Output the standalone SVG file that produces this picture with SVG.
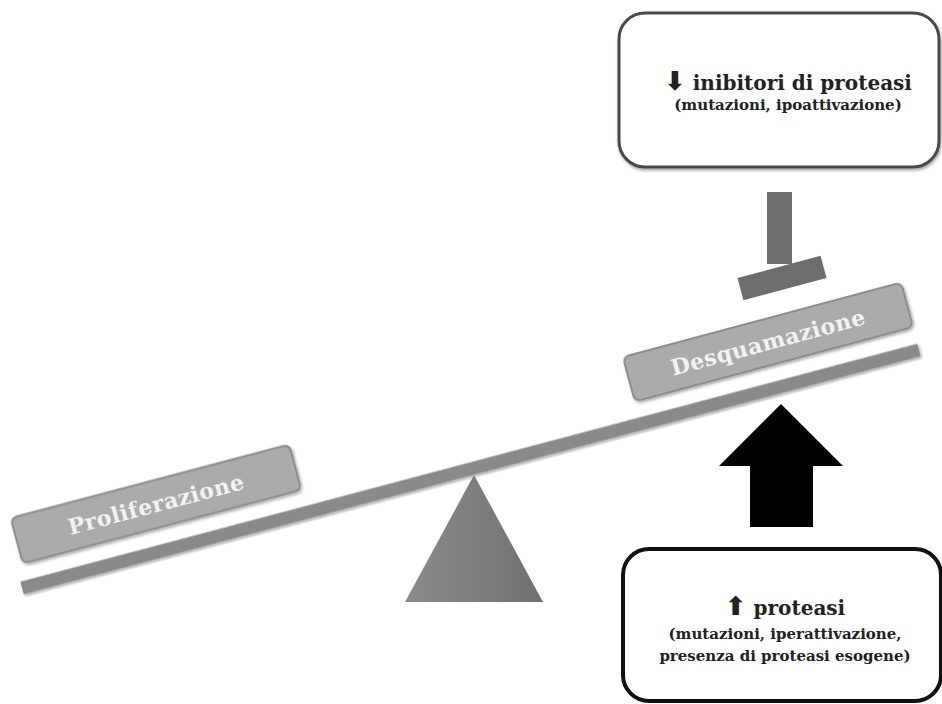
<svg xmlns="http://www.w3.org/2000/svg" width="942" height="704" viewBox="0 0 942 704">
  <style>
    .lbl { font-family: "DejaVu Serif", "Liberation Serif", serif; font-weight: bold; fill: #222; text-anchor: middle; }
    .big { font-size: 20px; }
    .small { font-size: 15px; }
    .arr { font-family: "DejaVu Sans", sans-serif; font-weight: bold; font-size: 26px; }
    .plate { fill: #ababab; stroke: #8c8c8c; stroke-width: 2; }
    .plateText { font-family: "DejaVu Serif", "Liberation Serif", serif; font-weight: bold; font-size: 22px; fill: #f2f2f2; text-anchor: middle; letter-spacing: 0.5px; }
    .bar { fill: #6d6d6d; }
  </style>
  <defs>
    <filter id="sh" x="-10%" y="-10%" width="120%" height="130%">
      <feDropShadow dx="1" dy="2" stdDeviation="1.5" flood-color="#000" flood-opacity="0.35"/>
    </filter>
    <linearGradient id="tri" x1="0" y1="0" x2="1" y2="0">
      <stop offset="0" stop-color="#8c8c8c"/>
      <stop offset="1" stop-color="#707070"/>
    </linearGradient>
  </defs>
  <rect width="942" height="704" fill="#ffffff"/>

  <g id="beam">
    <rect x="-464" y="-6.5" width="928" height="13" fill="#8a8a8a" transform="translate(470.5,469) rotate(-14.86)" filter="url(#sh)"/>
  </g>

  <g id="fulcrum">
    <polygon points="474,475 405,602 543,602" fill="url(#tri)"/>
  </g>

  <g id="proliferazione" transform="translate(156,504) rotate(-14.8)">
    <rect class="plate" x="-144" y="-23.5" width="288" height="47" rx="6" filter="url(#sh)"/>
    <text class="plateText" x="0" y="8">Proliferazione</text>
  </g>

  <g id="desquamazione" transform="translate(768,342) rotate(-15)">
    <rect class="plate" x="-144" y="-23" width="288" height="46" rx="6" filter="url(#sh)"/>
    <text class="plateText" x="0" y="8">Desquamazione</text>
  </g>

  <g id="inibitori">
    <rect x="619" y="13" width="320" height="154" rx="26" fill="#ffffff" stroke="#4a4a4a" stroke-width="3" filter="url(#sh)"/>
    <text class="lbl big" x="788" y="90"><tspan class="arr">⬇</tspan> inibitori di proteasi</text>
    <text class="lbl small" x="788" y="110">(mutazioni, ipoattivazione)</text>
  </g>

  <g id="proteasi">
    <rect x="623" y="549" width="318" height="152" rx="26" fill="#ffffff" stroke="#111" stroke-width="4"/>
    <text class="lbl big" x="785" y="615"><tspan class="arr">⬆</tspan> proteasi</text>
    <text class="lbl small" x="785" y="639">(mutazioni, iperattivazione,</text>
    <text class="lbl small" x="785" y="661">presenza di proteasi esogene)</text>
  </g>

  <g id="connectors">
    <g id="inhibition">
      <rect class="bar" x="767" y="192" width="25" height="72"/>
      <rect class="bar" x="-43" y="-11.5" width="86" height="23" transform="translate(782,278) rotate(-15)"/>
    </g>
    <g id="activation">
      <polygon points="781,404 843,466 813,466 813,527 750,527 750,466 719,466" fill="#000"/>
    </g>
  </g>
</svg>
